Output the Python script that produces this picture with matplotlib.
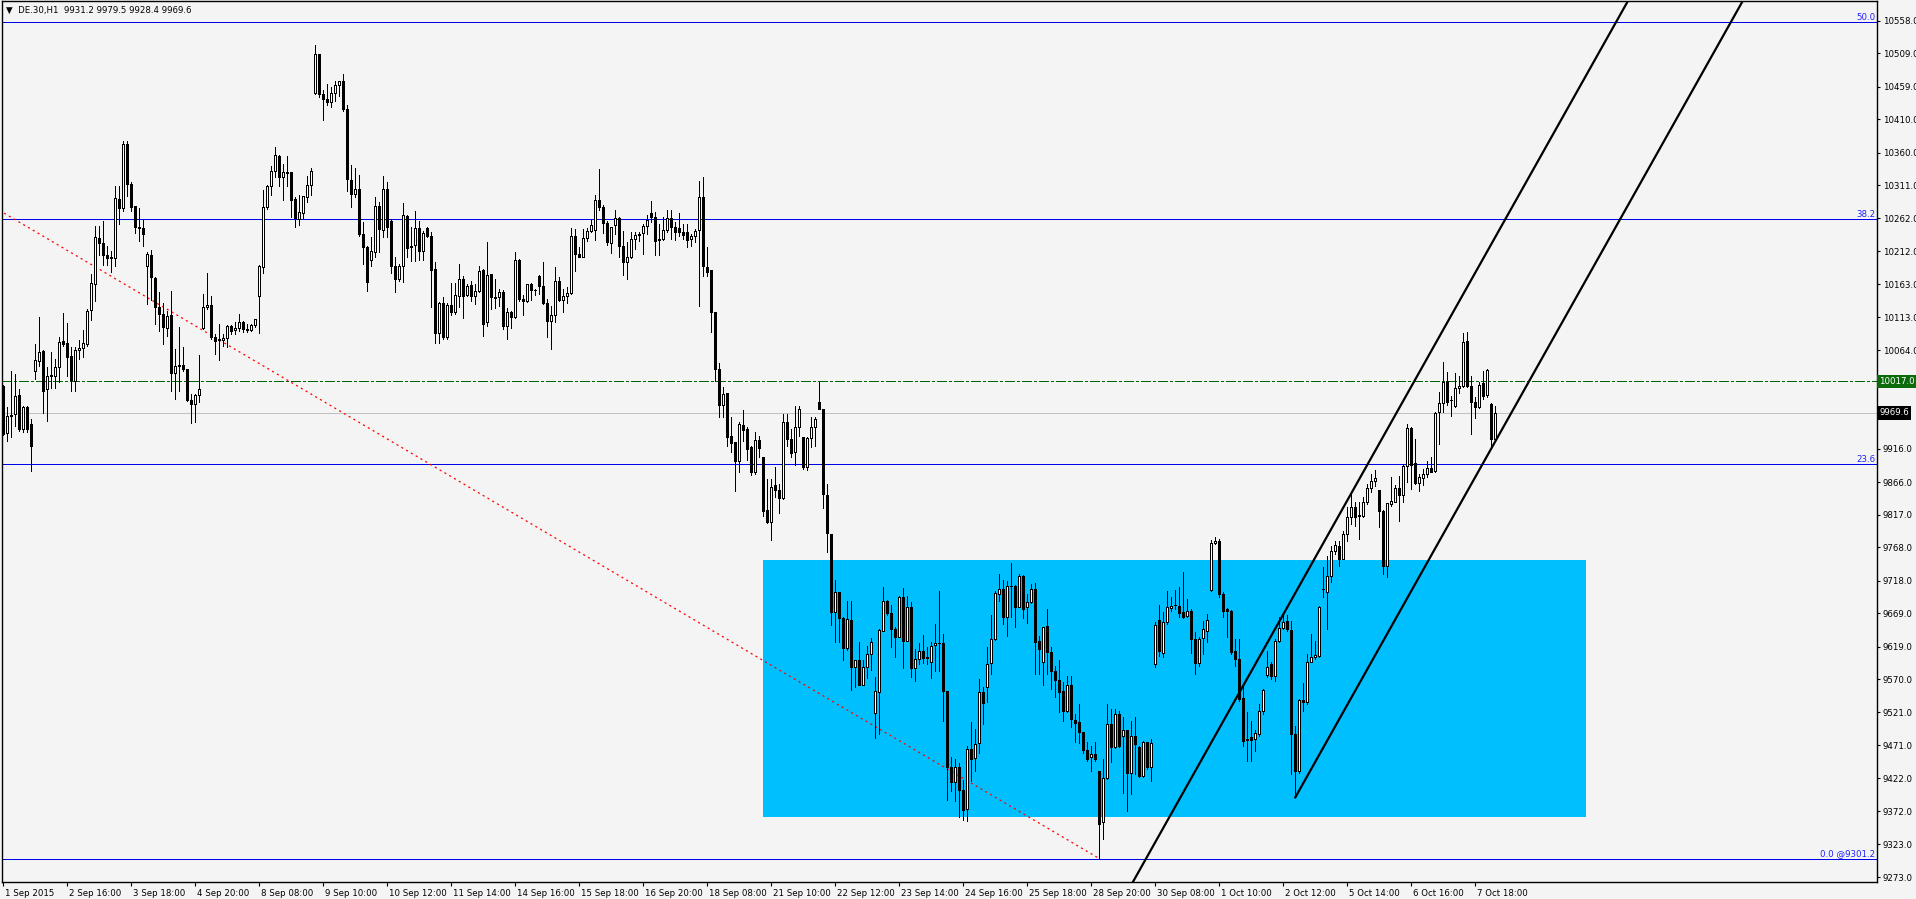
import numpy as np
import matplotlib
matplotlib.use("Agg")
import matplotlib.pyplot as plt
from matplotlib.patches import Rectangle
from matplotlib.transforms import blended_transform_factory, ScaledTranslation

# ---- DE.30 H1 candles, 1 Sep 14:00 -> 8 Oct 09:00 (14 bars a day) ----
opens = [
    10010, 9939, 9966, 9968, 9996.5, 9945.5, 9979, 9953,
    10032, 10047, 10063, 10005.5, 10025, 10025, 10038, 10078, 10074.5, 10055.5, 10018, 10064, 10066.5, 10073,
    10124, 10163, 10232.5, 10224.5, 10206.5, 10202, 10202, 10290.5, 10277, 10373, 10313, 10279.5, 10249, 10247,
    10190.5, 10206.5, 10172, 10128, 10118, 10097, 10117, 10029, 10042, 10042, 10035.5, 9989, 9983, 9996.5,
    10097, 10129, 10132, 10084, 10079, 10079, 10082, 10100.5, 10094, 10096.5, 10106.5, 10095.5, 10094.5, 10102,
    10145.5, 10188, 10278, 10310, 10333, 10355.5, 10323, 10331, 10331, 10290.5, 10260.5, 10269.5, 10293, 10311.5,
    10449.5, 10508, 10448, 10440.5, 10436.5, 10449.5, 10461.5, 10467, 10425.5, 10319.5, 10298, 10305.5, 10238, 10218,
    10199, 10210.5, 10280.5, 10244, 10305.5, 10258, 10190.5, 10170.5, 10189.5, 10265.5, 10220.5, 10221.5, 10247, 10212,
    10247, 10235.5, 10185.5, 10089.5, 10134, 10084, 10132, 10121.5, 10144.5, 10170, 10147, 10161.5, 10144.5, 10152,
    10184, 10105.5, 10178, 10143.5, 10143, 10150.5, 10100.5, 10121.5, 10113, 10199, 10140.5, 10137, 10163, 10154,
    10175.5, 10159.5, 10134, 10107, 10116.5, 10167.5, 10139, 10145.5, 10149.5, 10235.5, 10208, 10204, 10232, 10243,
    10244, 10289, 10279, 10254, 10224.5, 10251.5, 10262, 10220.5, 10195.5, 10203, 10230.5, 10236.5, 10239, 10250.5,
    10269.5, 10263, 10230.5, 10230.5, 10244, 10261.5, 10249, 10247, 10241.5, 10240.5, 10230.5, 10235.5, 10244, 10294,
    10188, 10184, 10121.5, 10035.5, 9982, 9999, 9935.5, 9925.5, 9897, 9952, 9945.5, 9919, 9880.5, 9929,
    9904, 9824, 9805.5, 9861.5, 9854, 9842, 9955.5, 9930.5, 9910.5, 9948, 9934, 9889, 9931.5, 9949,
    9986.5, 9975.5, 9846.5, 9788, 9671.5, 9700.5, 9662, 9616.5, 9659.5, 9588, 9599, 9561.5, 9588, 9608,
    9519.5, 9551.5, 9643, 9687, 9669, 9645.5, 9634, 9694, 9628, 9679, 9587, 9600.5, 9612, 9603,
    9595.5, 9621.5, 9624.5, 9624, 9553, 9438, 9415.5, 9438, 9404, 9375.5, 9465.5, 9451.5, 9474, 9550.5,
    9559, 9594, 9630.5, 9698, 9705.5, 9663, 9710, 9710.5, 9679, 9725.5, 9679, 9685.5, 9705.5, 9628,
    9595.5, 9649.5, 9610.5, 9583, 9569, 9553, 9523, 9561.5, 9509, 9505.5, 9490.5, 9464, 9453, 9458,
    9433, 9355.5, 9421.5, 9503, 9468, 9518, 9485.5, 9494, 9429, 9485.5, 9469, 9425.5, 9476.5, 9438,
    9593, 9659, 9609, 9656.5, 9677, 9681.5, 9680.5, 9670.5, 9665.5, 9673, 9630.5, 9594, 9631.5, 9642,
    9704, 9774, 9778, 9698, 9675, 9673, 9613, 9600.5, 9541.5, 9480.5, 9483, 9480.5, 9488, 9522,
    9577, 9593, 9575.5, 9628, 9647, 9658, 9644, 9488, 9433, 9539, 9536.5, 9596.5, 9603, 9605.5,
    9706, 9700.5, 9725.5, 9763, 9770.5, 9750.5, 9788, 9813, 9828, 9815.5, 9815.5, 9835.5, 9857, 9868,
    9854, 9823, 9739.5, 9833, 9836.5, 9857, 9847, 9890.5, 9947, 9894, 9864, 9872, 9878, 9887,
    9882, 9970.5, 9984, 10017, 9989, 9980.5, 10007, 10010.5, 10078, 10010.5, 9986.5, 9978, 10014, 9997,
    9983, 9931.2,
]
highs = [
    10012, 9978, 10033, 10028, 10005.5, 9980.5, 9980, 9960.5,
    10073, 10114, 10064, 10038, 10060.5, 10050.5, 10084, 10119.5, 10104, 10068, 10068, 10079, 10094, 10126,
    10178, 10250.5, 10250.5, 10258, 10220.5, 10213, 10310.5, 10310.5, 10378, 10378, 10315.5, 10280.5, 10277, 10259,
    10210.5, 10214, 10173, 10151.5, 10134, 10123, 10153, 10065.5, 10098, 10068, 10036, 9998, 9998, 10057,
    10148, 10179, 10145.5, 10088, 10103, 10088, 10102, 10102, 10105.5, 10118, 10107, 10103, 10103, 10111,
    10191, 10304.5, 10311, 10340.5, 10369, 10357, 10343, 10355.5, 10331, 10293, 10297, 10295.5, 10325.5, 10336.5,
    10522, 10508, 10454, 10463, 10458, 10467, 10468, 10478, 10432, 10342, 10337, 10327, 10255.5, 10220.5,
    10233, 10293, 10286.5, 10325.5, 10316.5, 10260.5, 10203, 10193, 10284, 10266.5, 10248, 10272, 10258, 10243,
    10249, 10240.5, 10195.5, 10136.5, 10143, 10134, 10164.5, 10164, 10193, 10175.5, 10163, 10168, 10163, 10190,
    10185, 10225.5, 10178, 10170.5, 10155.5, 10154, 10126.5, 10123, 10210.5, 10200.5, 10147, 10163, 10164, 10155.5,
    10177, 10196.5, 10140.5, 10130.5, 10188, 10173, 10155.5, 10158, 10246.5, 10245.5, 10218, 10245.5, 10246.5, 10259.5,
    10297, 10335.5, 10281.5, 10258, 10249, 10274.5, 10263, 10242, 10225.5, 10240.5, 10240.5, 10240.5, 10253, 10267,
    10288, 10270.5, 10253, 10263, 10274, 10274, 10255.5, 10269, 10253, 10253, 10238, 10245.5, 10318, 10324,
    10218, 10184, 10121.5, 10044, 10008, 9999.5, 9963, 9926, 9955.5, 9974, 9948, 9920.5, 9940.5, 9935.5,
    9904, 9870.5, 9870.5, 9889, 9863, 9968, 9968, 9945.5, 9980.5, 9980.5, 9934, 9933, 9963, 9963,
    10015.5, 9975.5, 9863, 9788, 9719, 9700.5, 9664, 9687, 9687, 9599, 9625.5, 9599, 9620.5, 9632,
    9574, 9645.5, 9709, 9689, 9682, 9648, 9695.5, 9707, 9695.5, 9686.5, 9615.5, 9624, 9637, 9618,
    9626.5, 9653, 9703, 9638, 9553, 9453, 9450.5, 9444, 9419, 9470.5, 9505.5, 9495.5, 9570.5, 9558,
    9618, 9667, 9702, 9728, 9719, 9718, 9744, 9712, 9728, 9726.5, 9698, 9713, 9714, 9635.5,
    9648, 9675.5, 9618, 9590.5, 9599, 9565.5, 9575.5, 9575.5, 9518, 9533, 9491.5, 9476.5, 9470.5, 9475.5,
    9433, 9450.5, 9533, 9525.5, 9525.5, 9523, 9513, 9494, 9508, 9514, 9470.5, 9478, 9476.5, 9480.5,
    9656.5, 9682, 9670.5, 9703, 9693, 9704, 9708, 9731.5, 9690.5, 9675.5, 9640.5, 9633, 9658, 9668,
    9779, 9784, 9780.5, 9700.5, 9677, 9674, 9630.5, 9630.5, 9563, 9520.5, 9508, 9494, 9533, 9555.5,
    9613, 9595.5, 9630.5, 9663, 9668, 9667, 9658, 9500.5, 9540.5, 9564, 9608, 9638, 9628, 9680.5,
    9738, 9755.5, 9770.5, 9778, 9778, 9793, 9828, 9850.5, 9835.5, 9835.5, 9843, 9863, 9878, 9884,
    9854, 9824, 9834, 9874, 9861.5, 9875.5, 9893, 9953, 9948, 9930.5, 9878, 9885.5, 9898, 9903,
    9970.5, 10000.5, 10045.5, 10030.5, 9995.5, 10029, 10025.5, 10089, 10090.5, 10025.5, 9994, 10015.5, 10033, 10035.5,
    9984, 9979.5,
]
lows = [
    9936, 9928, 9933, 9950.5, 9943, 9940.5, 9940.5, 9882,
    10020.5, 10040, 9969, 9957, 10007, 10006.5, 10015.5, 10070, 10025.5, 10003, 10003, 10050.5, 10053, 10070,
    10109, 10138, 10206.5, 10192, 10192, 10180.5, 10190.5, 10253, 10272, 10295.5, 10272, 10239, 10227, 10220,
    10133, 10139.5, 10103, 10093, 10073, 10085.5, 10003, 9990.5, 10003, 10033, 9988, 9954, 9955.5, 9985.5,
    10095, 10125, 10080, 10058, 10049.5, 10070.5, 10068, 10088, 10088, 10093, 10090.5, 10090.5, 10093, 10099,
    10089, 10179, 10275, 10297, 10323, 10309.5, 10289.5, 10309.5, 10264, 10248, 10251.5, 10261.5, 10285.5, 10296,
    10448, 10443, 10409, 10432, 10429, 10437, 10445.5, 10423, 10302, 10278, 10293, 10235.5, 10193, 10153,
    10190.5, 10203, 10211.5, 10233, 10233, 10179, 10150.5, 10168, 10166.5, 10203, 10197, 10197, 10199, 10199.5,
    10233, 10128, 10074.5, 10074.5, 10080.5, 10080.5, 10116.5, 10118, 10128, 10112, 10144.5, 10138, 10133, 10150.5,
    10084.5, 10099.5, 10125.5, 10126.5, 10129.5, 10095.5, 10080.5, 10097, 10111.5, 10138, 10116.5, 10135.5, 10139, 10146.5,
    10148, 10133, 10084, 10065.5, 10105.5, 10138, 10121.5, 10134, 10148, 10182, 10203, 10203, 10227, 10240.5,
    10229, 10274, 10239, 10222, 10209.5, 10238, 10203, 10176.5, 10170.5, 10202, 10215.5, 10228, 10208, 10238,
    10255.5, 10206.5, 10206.5, 10229.5, 10240.5, 10230.5, 10229, 10235.5, 10230, 10218, 10220.5, 10226.5, 10129.5, 10175.5,
    10175.5, 10090.5, 10017, 9963, 9963, 9919.5, 9910.5, 9853, 9880.5, 9928, 9899, 9877, 9878, 9903,
    9815.5, 9804, 9779, 9843, 9819, 9840.5, 9920.5, 9904, 9892, 9935, 9885.5, 9884, 9919, 9919.5,
    9975, 9827, 9760.5, 9651.5, 9625.5, 9625.5, 9599, 9614, 9554, 9559, 9561, 9561, 9571.5, 9584,
    9481.5, 9488, 9642, 9667, 9618, 9603, 9633, 9587, 9627, 9574, 9568, 9593, 9594, 9593,
    9571.5, 9583, 9583, 9508, 9389, 9403, 9388, 9364, 9359, 9358, 9418, 9433, 9459, 9503,
    9535.5, 9578, 9629, 9688, 9653, 9635.5, 9663, 9649, 9678, 9662, 9654, 9684, 9578, 9578,
    9562, 9578, 9555.5, 9543, 9520.5, 9508, 9521.5, 9498, 9475.5, 9474, 9459, 9447, 9433, 9448,
    9301.2, 9330, 9420.5, 9445.5, 9467, 9468, 9399, 9373, 9398, 9428, 9423, 9423, 9435.5, 9418,
    9588, 9605.5, 9603, 9653, 9673, 9675.5, 9663, 9662, 9663, 9609, 9578, 9590.5, 9608, 9625.5,
    9703, 9773, 9693, 9663, 9633, 9608, 9590.5, 9538, 9470.5, 9448, 9447, 9463, 9485.5, 9518,
    9573, 9570.5, 9568, 9625.5, 9645.5, 9643, 9428, 9393, 9430, 9522, 9533, 9595.5, 9600.5, 9603,
    9693, 9645.5, 9715.5, 9758, 9740.5, 9750.5, 9778, 9803, 9800.5, 9780.5, 9813, 9833, 9850.5, 9860.5,
    9798, 9728, 9724, 9830.5, 9835.5, 9807, 9836.5, 9866.5, 9855.5, 9863, 9852, 9862, 9873, 9880.5,
    9880.5, 9923, 9970.5, 9982, 9965.5, 9978, 9999, 10009, 10008, 9938, 9962, 9977, 9990.5, 9994,
    9919, 9928.4,
]
closes = [
    9938, 9965.5, 9965, 9995.5, 9945.5, 9979, 9945.5, 9919.5,
    10049, 10061.5, 10003, 10025.5, 10026, 10039, 10076.5, 10073, 10053, 10019.5, 10064.5, 10067.5, 10074, 10123,
    10164.5, 10233, 10224.5, 10206.5, 10202, 10203, 10292, 10277, 10373, 10313, 10278, 10248, 10247, 10238,
    10208, 10173, 10128, 10118, 10098, 10115.5, 10029, 10040.5, 10039.5, 10035.5, 9989, 9983, 9996.5, 10005.5,
    10129, 10132, 10084, 10078, 10080.5, 10082, 10100.5, 10092, 10097, 10106.5, 10095.5, 10094.5, 10102, 10110.5,
    10190.5, 10279, 10310.5, 10333, 10357, 10323, 10331, 10329, 10289, 10261.5, 10271.5, 10295.5, 10311.5, 10333,
    10508, 10448, 10440.5, 10435.5, 10449.5, 10461.5, 10467, 10425.5, 10320.5, 10298, 10305.5, 10238, 10218, 10165.5,
    10213, 10280.5, 10245.5, 10305.5, 10248, 10190.5, 10170.5, 10190.5, 10266.5, 10216.5, 10218, 10247, 10212, 10239.5,
    10234.5, 10184.5, 10089.5, 10134, 10084, 10132, 10121.5, 10147, 10170, 10144.5, 10160.5, 10144.5, 10152, 10183,
    10103, 10177, 10143, 10142.5, 10150.5, 10100.5, 10121.5, 10114, 10199, 10140.5, 10137, 10163, 10154, 10154.5,
    10159.5, 10134, 10107, 10116.5, 10167.5, 10139, 10145.5, 10149.5, 10235.5, 10208, 10204, 10232, 10243, 10251.5,
    10289, 10279, 10254, 10225.5, 10248, 10262, 10220.5, 10195.5, 10204, 10230.5, 10237, 10238, 10250.5, 10259,
    10263, 10228, 10229, 10244, 10262, 10249, 10240.5, 10241.5, 10237, 10229, 10235.5, 10243, 10293, 10190.5,
    10180.5, 10120.5, 10035.5, 9982, 9998, 9933, 9924, 9897, 9953, 9944, 9915.5, 9880.5, 9929, 9917,
    9823, 9805.5, 9859, 9854, 9842, 9955.5, 9930.5, 9909, 9948, 9975, 9889, 9931.5, 9949, 9960.5,
    9975.5, 9848, 9789, 9670.5, 9701.5, 9662, 9616.5, 9660.5, 9588, 9599, 9561.5, 9589, 9608, 9625.5,
    9552, 9644, 9687, 9669, 9645.5, 9634, 9694, 9628, 9679, 9587, 9600.5, 9612, 9602, 9602.5,
    9619.5, 9624.5, 9624, 9553, 9438, 9415.5, 9438, 9404, 9374, 9465.5, 9450.5, 9473, 9550.5, 9534,
    9593, 9630.5, 9699.5, 9705.5, 9663, 9709.5, 9710.5, 9679, 9725.5, 9675.5, 9685.5, 9705.5, 9626.5, 9615.5,
    9648, 9610.5, 9583, 9569, 9550.5, 9523, 9561.5, 9510.5, 9504, 9490.5, 9464, 9450.5, 9458, 9450.5,
    9353, 9421.5, 9503, 9469, 9518, 9470.5, 9494, 9429, 9485.5, 9473, 9425.5, 9476.5, 9438, 9474,
    9651.5, 9612, 9656.5, 9678, 9680.5, 9681, 9669, 9664, 9673, 9630.5, 9594, 9630.5, 9645.5, 9659,
    9774, 9778, 9698, 9673, 9673, 9611.5, 9600.5, 9540.5, 9478, 9479, 9479, 9489, 9523, 9554,
    9589, 9575.5, 9628, 9647, 9656.5, 9645.5, 9488, 9433, 9539, 9536.5, 9595.5, 9604, 9606.5, 9678,
    9705, 9725.5, 9763, 9772, 9750.5, 9788, 9813, 9828, 9813, 9817, 9835.5, 9857, 9867, 9871.5,
    9822, 9739.5, 9834, 9838, 9857, 9847, 9890.5, 9947, 9892, 9864, 9873, 9878, 9887, 9881.5,
    9969, 9984, 10015.5, 9985.5, 9988.5, 10007, 10010.5, 10075.5, 10010.5, 9986.5, 9978, 10011.5, 9995.5, 10034,
    9930.5, 9969.6,
]

time_labels = ["1 Sep 2015", "2 Sep 16:00", "3 Sep 18:00", "4 Sep 20:00", "8 Sep 08:00",
               "9 Sep 10:00", "10 Sep 12:00", "11 Sep 14:00", "14 Sep 16:00", "15 Sep 18:00",
               "16 Sep 20:00", "18 Sep 08:00", "21 Sep 10:00", "22 Sep 12:00", "23 Sep 14:00",
               "24 Sep 16:00", "25 Sep 18:00", "28 Sep 20:00", "30 Sep 08:00", "1 Oct 10:00",
               "2 Oct 12:00", "5 Oct 14:00", "6 Oct 16:00", "7 Oct 18:00"]
bars_per_label = 16

price_ticks = [10558.0, 10509.0, 10459.0, 10410.0, 10360.0, 10311.0, 10262.0, 10212.0,
               10163.0, 10113.0, 10064.0, 9916.0, 9866.0, 9817.0, 9768.0, 9718.0,
               9669.0, 9619.0, 9570.0, 9521.0, 9471.0, 9422.0, 9372.0, 9323.0, 9273.0]

# fibonacci retracement
fib_low = 9301.2
fib_high = 11811.2
fib_levels = [0.0, 23.6, 38.2, 50.0]

level_line = 10017.0
bid_price = 9969.6

# zone rectangle: (bar from, bar to), (price low, price high)
zone_bars = (190, 395.7)
zone_prices = (9363.0, 9749.5)

# drawn trend lines as (bar, price) anchors
red_trend = [(-1.0, 10273.5), (274.0, 9301.2)]
channel_upper = [(282.3, 9265.0), (406.2, 10588.0)]
channel_lower = [(323.0, 9393.0), (434.9, 10588.0)]

BG = "#f4f4f4"
W, H = 1916, 899
PX = 0.7  # about one pixel, in points
plt.rcParams["font.family"] = ["DejaVu Sans"]
plt.rcParams["lines.scale_dashes"] = False

fig = plt.figure(figsize=(W / 100, H / 100), dpi=100, facecolor=BG)
left, right, top, bottom = 2.3, 1876.7, 1.0, 881.7
ax = fig.add_axes([left / W, 1 - bottom / H, (right - left) / W, (bottom - top) / H])
ax.set_facecolor(BG)
ax.set_xlim(-0.25, 468.35)
ax.set_ylim(9266.5, 10587.5)

o = np.array(opens); h = np.array(highs); l = np.array(lows); c = np.array(closes)
x = np.arange(len(o))

# background objects
ax.add_patch(Rectangle((zone_bars[0], zone_prices[0]), zone_bars[1] - zone_bars[0],
                       zone_prices[1] - zone_prices[0], facecolor="#00bfff", edgecolor="none", zorder=1))

for lev in fib_levels:
    ax.axhline(fib_low + (fib_high - fib_low) * lev / 100.0, color="#0000e6", lw=PX,
               antialiased=False, zorder=2)

ax.axhline(level_line, color="#006400", lw=PX, dashes=(7, 2, 1.5, 2), antialiased=False, zorder=2)
ax.axhline(bid_price, color="#c0c0c0", lw=PX, antialiased=False, zorder=2)

ax.plot([p[0] for p in red_trend], [p[1] for p in red_trend], color="red", lw=0.9,
        dashes=(1.5, 2.5), zorder=2)

# candles
ax.vlines(x, l, h, color="black", lw=PX, antialiased=False, zorder=3)
up = c >= o
ax.bar(x[up], c[up] - o[up], bottom=o[up], width=0.55, facecolor="white",
       edgecolor="black", lw=PX, antialiased=False, zorder=4)
ax.bar(x[~up], c[~up] - o[~up], bottom=o[~up], width=0.55, facecolor="black",
       edgecolor="black", lw=PX, antialiased=False, zorder=4)

# channel
for ln in (channel_upper, channel_lower):
    ax.plot([p[0] for p in ln], [p[1] for p in ln], color="black", lw=1.6, zorder=5)

# axes styling
for s in ax.spines.values():
    s.set_color("black")
    s.set_linewidth(1.0)

ax.yaxis.tick_right()
ax.set_yticks(price_ticks)
ax.set_yticklabels([f"{v:.1f}" for v in price_ticks])
ax.tick_params(axis="y", direction="out", length=2.5, width=0.8, pad=2, labelsize=6.2, colors="black")

xt = [i * bars_per_label for i in range(len(time_labels))]
ax.set_xticks(xt)
ax.set_xticklabels(time_labels)
ax.tick_params(axis="x", direction="out", length=3, width=0.8, pad=2, labelsize=6.2, colors="black")
shift = ScaledTranslation(1.5 / 100, 0, fig.dpi_scale_trans)
for lbl in ax.get_xticklabels():
    lbl.set_horizontalalignment("left")
    lbl.set_transform(lbl.get_transform() + shift)

trans = blended_transform_factory(ax.transAxes, ax.transData)
for lev in fib_levels:
    price = fib_low + (fib_high - fib_low) * lev / 100.0
    txt = f"{lev:.1f}" if lev > 0 else f"{lev:.1f} @{fib_low:.1f}"
    ax.text(1 - 1.5 / (right - left), price, txt, transform=trans, ha="right", va="bottom",
            color="#2020ff", fontsize=6.2, zorder=6)

ax.text(1 + 2.5 / (right - left), level_line, f"{level_line:.1f}", transform=trans,
        ha="left", va="center", color="white", fontsize=6.2, zorder=7, clip_on=False,
        bbox=dict(boxstyle="square,pad=0.25", facecolor="#0b6b0b", edgecolor="none"))
ax.text(1 + 2.5 / (right - left), bid_price, f"{bid_price:.1f}", transform=trans,
        ha="left", va="center", color="white", fontsize=6.2, zorder=7, clip_on=False,
        bbox=dict(boxstyle="square,pad=0.25", facecolor="black", edgecolor="none"))

fig.text(6 / W, 1 - 10 / H, "\u25bc  DE.30,H1  %.1f %.1f %.1f %.1f" % (o[-1], h[-1], l[-1], c[-1]),
         ha="left", va="center", fontsize=6.2, color="black")

fig.savefig("out.png", dpi=100, facecolor=BG)
